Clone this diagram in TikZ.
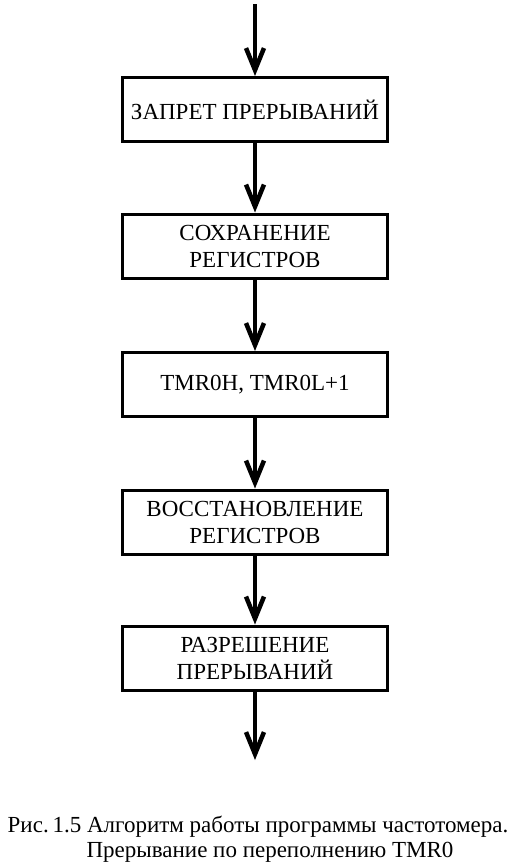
\documentclass[tikz,border=0pt]{standalone}
\usepackage{fontspec}
\setmainfont{Liberation Serif}
\usetikzlibrary{arrows.meta}
\begin{document}
\begin{tikzpicture}[x=1pt,y=-1pt,
  blk/.style={draw, line width=3pt, minimum width=265pt, minimum height=64pt,
    align=center, inner sep=0pt, font=\fontsize{23}{27}\selectfont},
  flow/.style={line width=4pt, -{Straight Barb[length=22pt,width=18pt,line width=4.5pt]}},
  captext/.style={anchor=base, inner sep=0pt, font=\fontsize{23}{26}\selectfont}]
\useasboundingbox (0,0) rectangle (515,868);
\node[blk] (b1) at (255,109.5) {ЗАПРЕТ ПРЕРЫВАНИЙ};
\node[blk] (b2) at (255,246) {СОХРАНЕНИЕ\\РЕГИСТРОВ};
\node[blk] (b3) at (255,384.5) {TMR0H, TMR0L+1};
\node[blk] (b4) at (255,522) {ВОССТАНОВЛЕНИЕ\\РЕГИСТРОВ};
\node[blk] (b5) at (255,658) {РАЗРЕШЕНИЕ\\ПРЕРЫВАНИЙ};
\coordinate (start) at (255,4);
\coordinate (end) at (255,760);
\draw[flow] (start) -- (b1.north);
\draw[flow] (b1.south) -- (b2.north);
\draw[flow] (b2.south) -- (b3.north);
\draw[flow] (b3.south) -- (b4.north);
\draw[flow] (b4.south) -- (b5.north);
\draw[flow] (b5.south) -- (end);
\node[captext] (c1) at (258,832) {Рис.\,1.5 Алгоритм работы программы частотомера.};
\node[captext] (c2) at (270,857) {Прерывание по переполнению TMR0};
\end{tikzpicture}
\end{document}
